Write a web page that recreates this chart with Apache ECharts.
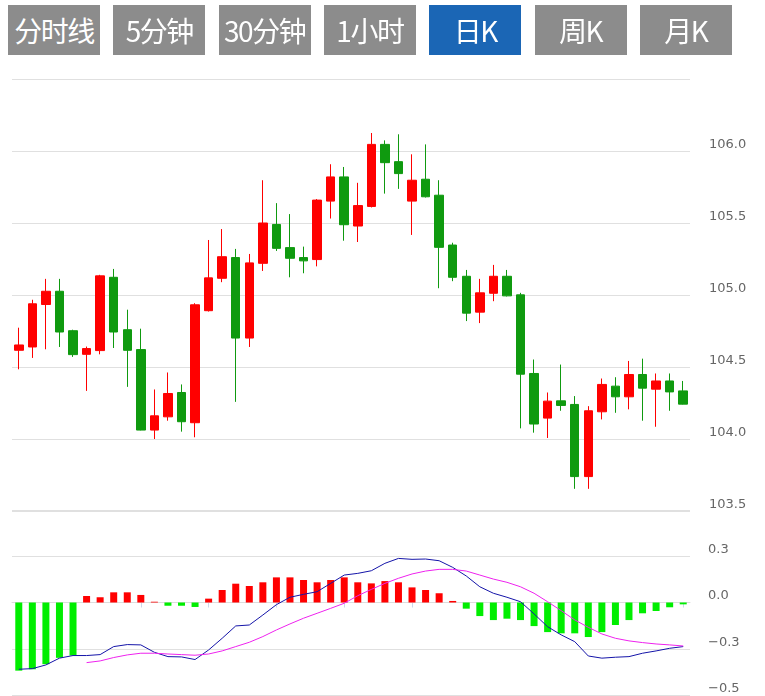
<!DOCTYPE html>
<html>
<head>
<meta charset="utf-8">
<script src="https://cdn.jsdelivr.net/npm/echarts@6/dist/echarts.min.js"></script>
<style>
  html, body { margin: 0; padding: 0; background: #fff; }
  #wrap { position: relative; width: 765px; height: 696px; overflow: hidden; }
  #chart { position: absolute; left: 0; top: 0; width: 765px; height: 696px; }
  .btn { position: absolute; top: 5px; height: 50px; width: 92px; background: #8c8c8c; color: #fff;
         font-family: "Noto Sans CJK SC", "Noto Sans", sans-serif; font-size: 28px; line-height: 50px;
         text-align: center; letter-spacing: -1.5px; white-space: nowrap; overflow: hidden; }
  .btn.active { background: #1b66b5; }
</style>
</head>
<body>
<div id="wrap">
  <div id="chart"></div>
  <div id="btns"></div>
</div>
<script>
// ---- data ----
const buttonLabels = ['分时线', '5分钟', '30分钟', '1小时', '日K', '周K', '月K'];
const activeButton = '日K';

const categories = ['1','2','3','4','5','6','7','8','9','10','11','12','13','14','15','16','17','18','19','20',
  '21','22','23','24','25','26','27','28','29','30','31','32','33','34','35','36','37','38','39','40',
  '41','42','43','44','45','46','47','48','49','50'];

const openValues = [104.616,104.639,104.934,105.026,104.752,104.588,104.614,105.123,104.759,104.621,
  104.062,104.154,104.323,104.113,104.891,105.116,105.260,104.701,105.220,105.490,
  105.329,105.260,105.246,105.652,105.820,105.479,105.615,106.046,105.926,105.652,
  105.804,105.693,105.347,105.130,104.881,105.012,105.130,105.001,104.455,104.145,
  104.265,104.240,103.739,104.189,104.367,104.293,104.448,104.346,104.403,104.334];
const closeValues = [104.653,104.939,105.026,104.743,104.586,104.628,105.133,104.743,104.616,104.062,
  104.161,104.316,104.120,104.932,105.119,105.266,104.701,105.223,105.500,105.324,
  105.255,105.237,105.659,105.820,105.488,105.621,106.046,105.919,105.843,105.797,
  105.682,105.331,105.123,104.874,105.015,105.130,104.994,104.450,104.104,104.263,
  104.233,103.739,104.196,104.379,104.293,104.448,104.353,104.403,104.327,104.242];
const lowValues = [104.484,104.563,104.623,104.639,104.570,104.334,104.588,104.632,104.362,104.060,
  104.000,104.127,104.051,104.012,104.885,105.089,104.258,104.639,105.167,105.306,
  105.123,105.151,105.199,105.531,105.377,105.368,105.608,105.704,105.737,105.417,
  105.677,105.047,105.096,104.819,104.805,104.957,104.990,104.074,104.044,104.007,
  104.196,103.654,103.654,104.136,104.182,104.206,104.127,104.085,104.196,104.240];
const highValues = [104.773,104.967,105.112,105.112,104.759,104.642,105.140,105.181,104.898,104.766,
  104.344,104.462,104.379,104.943,105.382,105.458,105.320,105.285,105.797,105.638,
  105.562,105.336,105.666,105.908,105.889,105.779,106.125,106.074,106.116,105.977,
  106.046,105.797,105.363,105.174,105.112,105.209,105.174,105.015,104.552,104.323,
  104.517,104.298,104.228,104.420,104.429,104.542,104.558,104.455,104.455,104.403];

const macdHist = [-0.442,-0.433,-0.400,-0.359,-0.344,0.042,0.034,0.066,0.066,0.049,
  0.005,-0.021,-0.021,-0.029,0.025,0.081,0.122,0.107,0.131,0.163,
  0.163,0.146,0.131,0.146,0.163,0.131,0.124,0.139,0.131,0.098,
  0.081,0.060,0.010,-0.040,-0.088,-0.114,-0.105,-0.114,-0.153,-0.192,
  -0.200,-0.200,-0.224,-0.192,-0.146,-0.114,-0.070,-0.055,-0.031,-0.012];
const difValues = [-0.433,-0.429,-0.405,-0.361,-0.344,-0.344,-0.338,-0.286,-0.273,-0.275,
  -0.323,-0.351,-0.353,-0.370,-0.308,-0.232,-0.152,-0.146,-0.081,-0.014,
  0.034,0.053,0.070,0.124,0.178,0.189,0.206,0.254,0.286,0.280,
  0.282,0.271,0.228,0.172,0.102,0.060,0.034,0.005,-0.074,-0.157,
  -0.210,-0.254,-0.347,-0.361,-0.355,-0.351,-0.329,-0.314,-0.297,-0.286];
const deaValues = [null,null,null,null,null,-0.390,-0.379,-0.357,-0.340,-0.329,
  -0.329,-0.334,-0.338,-0.342,-0.334,-0.314,-0.286,-0.258,-0.221,-0.178,
  -0.139,-0.102,-0.070,-0.038,-0.005,0.044,0.085,0.124,0.157,0.185,
  0.204,0.215,0.215,0.204,0.178,0.152,0.131,0.102,0.060,0.005,
  -0.053,-0.113,-0.161,-0.204,-0.232,-0.249,-0.260,-0.269,-0.275,-0.282];

const macdTickValues = [-0.6, -0.3, 0, 0.3];
const macdTickLabels = ['\u22120.5', '\u22120.3', '0.0', '0.3'];

// ---- buttons ----
const btnBox = document.getElementById('btns');
buttonLabels.forEach((t, i) => {
  const d = document.createElement('div');
  d.className = 'btn' + (t === activeButton ? ' active' : '');
  d.style.left = (8 + i * 105.3) + 'px';
  d.textContent = t;
  btnBox.appendChild(d);
});

// ---- chart ----
const candleData = categories.map((c, i) => [openValues[i], closeValues[i], lowValues[i], highValues[i]]);
const UP = '#ff0000', DOWN = '#0f9a0f';
const labelStyle = { color: '#666', fontFamily: 'DejaVu Sans', fontSize: 13 };
const chart = echarts.init(document.getElementById('chart'), null, { renderer: 'canvas' });
chart.setOption({
  animation: false,
  grid: [
    { left: 12, right: 75, top: 79, height: 432 },
    { left: 12, right: 75, top: 510, height: 185 }
  ],
  xAxis: [
    { type: 'category', gridIndex: 0, data: categories, boundaryGap: true,
      axisLine: { show: false }, axisTick: { show: false }, axisLabel: { show: false }, splitLine: { show: false } },
    { type: 'category', gridIndex: 1, data: categories, boundaryGap: true,
      axisLine: { show: true, lineStyle: { color: '#dddddd', width: 1 } },
      axisTick: { show: true, alignWithLabel: true, length: 5, lineStyle: { color: '#ccd6eb' },
                  interval: (idx) => idx % 5 === 4 },
      axisLabel: { show: false }, splitLine: { show: false } }
  ],
  yAxis: [
    { type: 'value', gridIndex: 0, position: 'right', min: 103.5, max: 106.5, interval: 0.5,
      axisLine: { show: false }, axisTick: { show: false },
      splitLine: { show: true, lineStyle: { color: '#e0e0e0' } },
      axisLabel: Object.assign({ margin: 19, showMaxLabel: false, verticalAlign: 'bottom',
        formatter: (v) => v.toFixed(1) }, labelStyle) },
    { type: 'value', gridIndex: 1, position: 'right', min: -0.6, max: 0.6, interval: 0.3,
      axisLine: { show: false }, axisTick: { show: false },
      splitLine: { show: true, lineStyle: { color: '#e0e0e0' } },
      axisLabel: Object.assign({ margin: 18, showMaxLabel: false, verticalAlign: 'bottom',
        formatter: (v) => {
          const k = macdTickValues.findIndex(t => Math.abs(t - v) < 1e-6);
          return k >= 0 ? macdTickLabels[k] : '';
        } }, labelStyle) }
  ],
  series: [
    { type: 'candlestick', xAxisIndex: 0, yAxisIndex: 0, data: candleData, barWidth: 9,
      itemStyle: { color: UP, color0: DOWN, borderColor: UP, borderColor0: DOWN, borderWidth: 1 } },
    { type: 'bar', xAxisIndex: 1, yAxisIndex: 1, data: macdHist, barWidth: 7,
      itemStyle: { color: (p) => p.value >= 0 ? '#ff0000' : '#00ee00' } },
    { type: 'line', xAxisIndex: 1, yAxisIndex: 1, data: difValues, symbol: 'none',
      lineStyle: { color: '#1414a8', width: 1 } },
    { type: 'line', xAxisIndex: 1, yAxisIndex: 1, data: deaValues, symbol: 'none',
      lineStyle: { color: '#ee22ee', width: 1 } }
  ]
});
</script>
</body>
</html>
